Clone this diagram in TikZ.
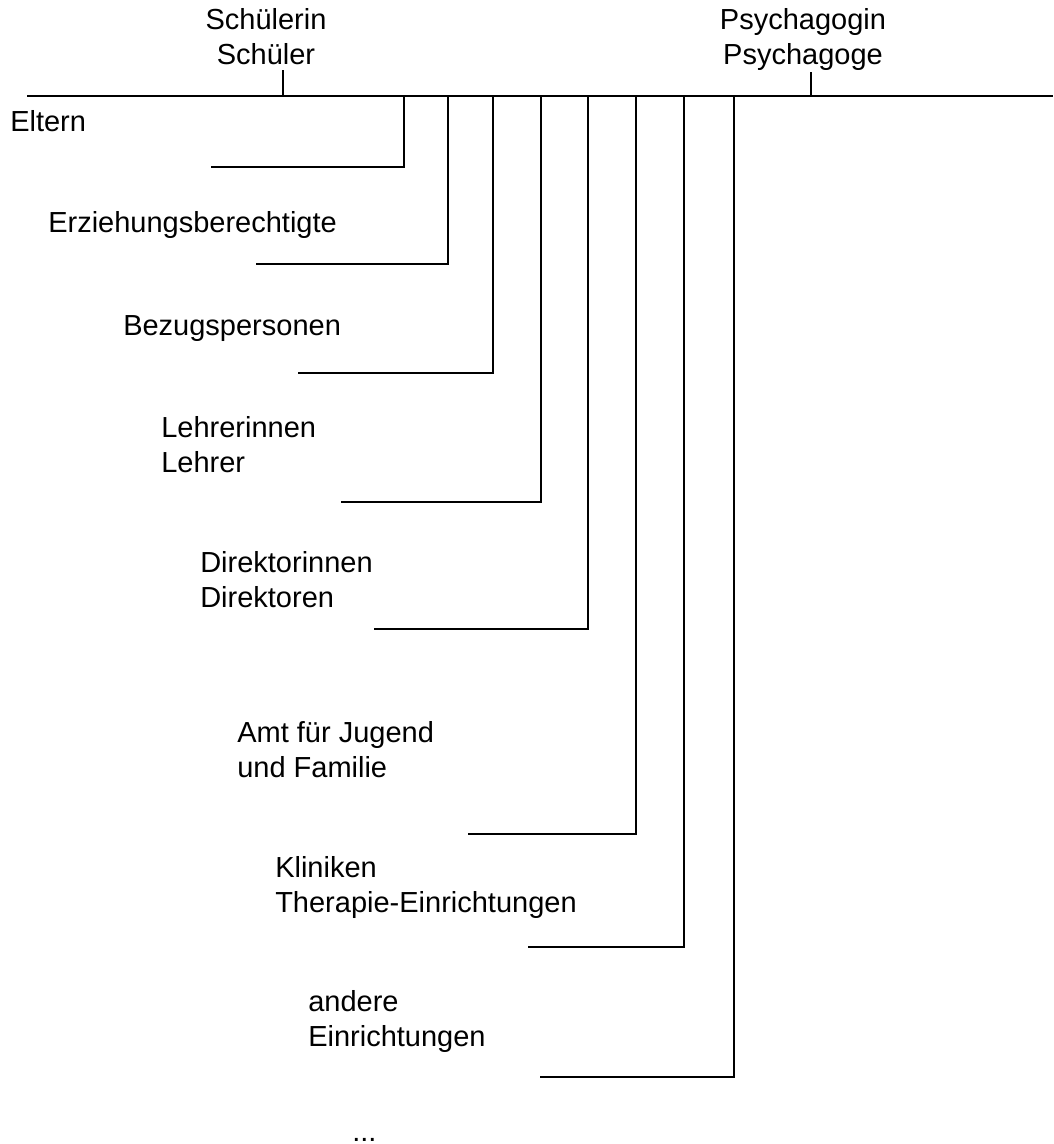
\documentclass[tikz,border=0pt]{standalone}
\usepackage{fontspec}
\setmainfont{Liberation Sans}
\newcommand\lblfont{\fontsize{21.75pt}{26.25pt}\selectfont}
\tikzset{
  lbl/.style={inner sep=0pt, anchor=base west, align=left, font=\lblfont},
  toplbl/.style={lbl, anchor=base, align=center},
  bar/.style={line width=0.9pt}
}
\begin{document}
\begin{tikzpicture}[x=0.75pt, y=-0.75pt]
  \useasboundingbox (0,0) rectangle (1053,1144);
  % main axis
  \coordinate (axisL) at (27,96);
  \coordinate (axisR) at (1053,96);
  \draw[bar] (axisL) -- (axisR);
  % the two persons above the axis (base = last line)
  \node[toplbl] (schueler) at (266,65) {Schülerin\\Schüler};
  \node[toplbl] (psych) at (803,65) {Psychagogin\\Psychagoge};
  \coordinate (sA) at (283,96);
  \coordinate (sB) at (283,70);
  \coordinate (pA) at (811,96);
  \coordinate (pB) at (811,72);
  \draw[bar] (sA) -- (sB);
  \draw[bar] (pA) -- (pB);
  % branches below the axis
  \foreach \n/\x/\y/\l in {1/404/167/211, 2/448/264/256, 3/493/373/298, 4/541/502/341,
                           5/588/629/374, 6/636/834/468, 7/684/947/528, 8/734/1077/540} {
    \coordinate (t\n) at (\x,96);
    \coordinate (c\n) at (\x,\y);
    \coordinate (e\n) at (\l,\y);
    \draw[bar] (t\n) -- (c\n) -- (e\n);
  }
  % labels
  \foreach \name/\x/\y/\txt in {eltern/10/132/{Eltern},
                                erz/48/233/{Erziehungsberechtigte},
                                bezug/123/336/{Bezugspersonen},
                                lehrer/161/472/{Lehrerinnen\\Lehrer},
                                dir/200/607/{Direktorinnen\\Direktoren},
                                amt/237/777/{Amt für Jugend\\und Familie},
                                klinik/275/912/{Kliniken\\Therapie-Einrichtungen},
                                andere/308/1046/{andere\\Einrichtungen}}
    \node[lbl] (\name) at (\x,\y) {\txt};
  \node[lbl] (more) at (352,1141) {...};
\end{tikzpicture}
\end{document}
